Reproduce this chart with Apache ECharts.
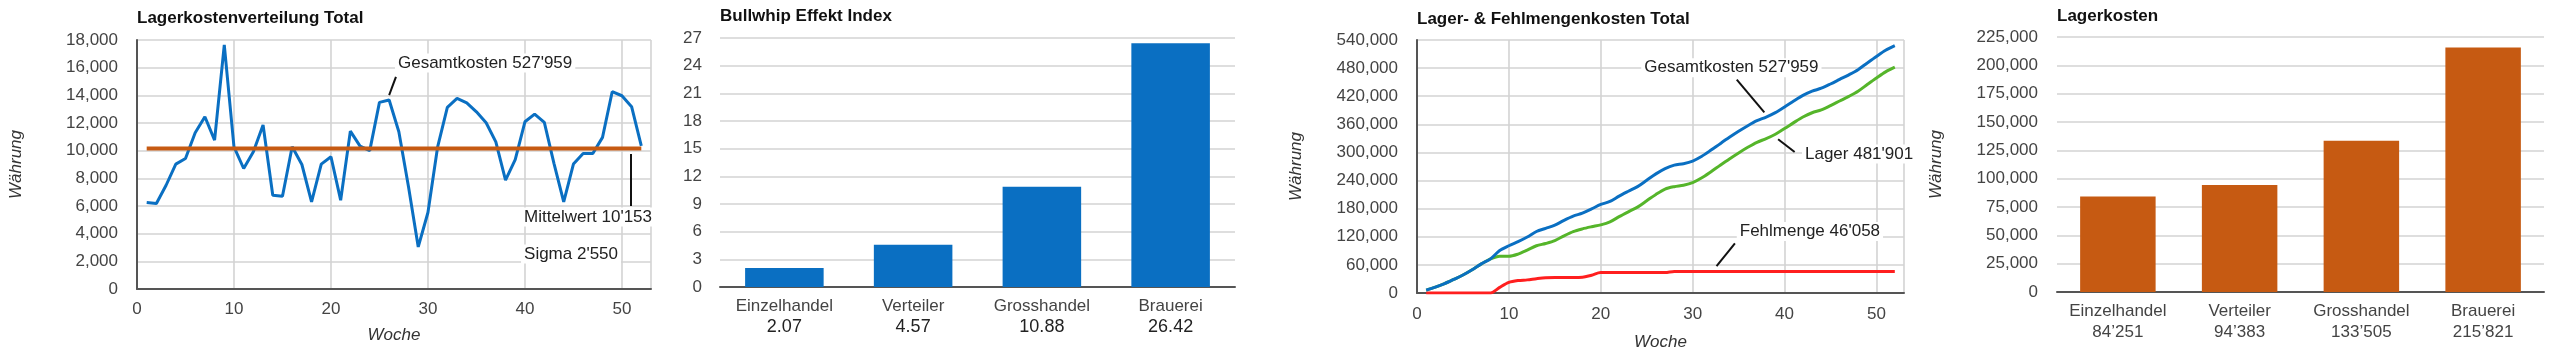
<!DOCTYPE html>
<html>
<head>
<meta charset="utf-8">
<script src="https://cdn.jsdelivr.net/npm/echarts@6/dist/echarts.min.js"></script>
<style>
  html, body { margin: 0; padding: 0; background: #fff; }
  #chart { width: 2560px; height: 356px; }
</style>
</head>
<body>
<div id="chart"></div>
<script>
// --- Daten ---
const weeks = [1,2,3,4,5,6,7,8,9,10,11,12,13,14,15,16,17,18,19,20,21,22,23,24,25,26,
  27,28,29,30,31,32,33,34,35,36,37,38,39,40,41,42,43,44,45,46,47,48,49,50,51,52];

// Lagerkosten pro Woche (Total)
const weeklyCost = [6250,6180,7500,9030,9430,11300,12450,10760,17640,10280,8710,9920,11850,
  6780,6710,10280,9000,6300,9030,9560,6420,11410,10330,10000,13490,13660,11370,7380,3040,
  5530,10280,13130,13780,13460,12810,12020,10640,7870,9360,12090,12640,12040,9070,6300,
  9030,9800,9800,10960,14260,13970,13180,10350];
const meanCost = 10153;

// kumuliert
const gesamt = [6250,12430,19930,28960,38390,49690,62140,72900,90540,100820,109530,119450,
  131300,138080,144790,155070,164070,170370,179400,188960,195380,206790,217120,227120,
  240610,254270,265640,273020,276060,281590,291870,305000,318780,332240,345050,357070,
  367710,375580,384940,397030,409670,421710,430780,437080,446110,455910,465710,476670,
  490930,504900,518080,527959];
const lager = [6250,12430,19930,28960,38390,49690,62140,72900,78540,78320,83030,91450,
  100800,105580,111790,122070,131070,136870,141400,145460,151880,162990,173320,183320,
  196810,210470,221840,226962,230002,235532,245812,258942,272722,286182,298992,311012,
  321652,329522,338882,350972,363612,375652,384722,391022,400052,409852,419652,430612,
  444872,458842,472022,481901];
const fehlmenge = [0,0,0,0,0,0,0,0,12000,22500,26500,28000,30500,32500,33000,33000,33000,
  33500,38000,43500,43500,43800,43800,43800,43800,43800,43800,46058,46058,46058,46058,
  46058,46058,46058,46058,46058,46058,46058,46058,46058,46058,46058,46058,46058,46058,
  46058,46058,46058,46058,46058,46058,46058];

const stufen = ['Einzelhandel', 'Verteiler', 'Grosshandel', 'Brauerei'];
const bullwhip = [2.07, 4.57, 10.88, 26.42];
const lagerkosten = [84251, 94383, 133505, 215821];

// --- Stil ---
const FONT = '"Liberation Sans", Arial, sans-serif';
const BLUE = '#0a6fc2';
const ORANGE = '#c65a12';
const GREEN = '#55b52a';
const RED = '#ff1f1f';
const GRID = '#d3d3d3';
const AXIS = '#555';

const pairs = (ys) => weeks.map((w, i) => [w, ys[i]]);
const swissNum = (v, sep) => String(v).replace(/\B(?=(\d{3})+(?!\d))/g, sep);

function valueX(grid) {
  return {
    type: 'value', gridIndex: grid, min: 0, max: 53, interval: 10,
    name: 'Woche', nameLocation: 'middle', nameGap: 38,
    nameTextStyle: { fontFamily: FONT, fontSize: 17, fontStyle: 'italic', color: '#333' },
    axisLine: { show: true, lineStyle: { color: AXIS, width: 2 } },
    axisTick: { show: false },
    axisLabel: { fontFamily: FONT, fontSize: 17, color: '#444', margin: 12, showMaxLabel: false },
    splitLine: { show: true, lineStyle: { color: GRID, width: 1.6 } }
  };
}
function valueY(grid, max, interval, opts) {
  return Object.assign({
    type: 'value', gridIndex: grid, min: 0, max: max, interval: interval,
    axisLine: { show: true, lineStyle: { color: AXIS, width: 2 } },
    axisTick: { show: false },
    axisLabel: { fontFamily: FONT, fontSize: 17, color: '#444', margin: 19 },
    splitLine: { show: true, lineStyle: { color: GRID, width: 1.6 } }
  }, opts || {});
}
const yName = {
  name: 'Währung', nameLocation: 'middle', nameGap: 112,
  nameTextStyle: { fontFamily: FONT, fontSize: 17, fontStyle: 'italic', color: '#333' }
};
function catX(grid, fmt) {
  return {
    type: 'category', gridIndex: grid, data: stufen,
    axisLine: { show: true, lineStyle: { color: AXIS, width: 2 } },
    axisTick: { show: false },
    axisLabel: {
      margin: 9, interval: 0, formatter: fmt,
      rich: {
        a: { fontFamily: FONT, fontSize: 17, color: '#444', lineHeight: 21 },
        b: { fontFamily: FONT, fontSize: 18, color: '#222', lineHeight: 21 }
      }
    }
  };
}

const titleStyle = { fontFamily: FONT, fontSize: 17, fontWeight: 'bold', color: '#111' };

const chart = echarts.init(document.getElementById('chart'));
chart.setOption({
  animation: false,
  backgroundColor: '#fff',
  title: [
    { text: 'Lagerkostenverteilung Total', left: 137, top: 10, padding: 0, textStyle: titleStyle },
    { text: 'Bullwhip Effekt Index', left: 720, top: 8, padding: 0, textStyle: titleStyle },
    { text: 'Lager- & Fehlmengenkosten Total', left: 1417, top: 11, padding: 0, textStyle: titleStyle },
    { text: 'Lagerkosten', left: 2057, top: 8, padding: 0, textStyle: titleStyle }
  ],
  grid: [
    { left: 137, top: 40, width: 514, height: 249 },
    { left: 720, top: 38, width: 515, height: 249 },
    { left: 1417, top: 40, width: 487, height: 255 },
    { left: 2057, top: 37, width: 487, height: 255 }
  ],
  xAxis: [
    valueX(0),
    catX(1, (v, i) => `{a|${v}}\n{b|${bullwhip[i].toFixed(2)}}`),
    Object.assign(valueX(2), { nameGap: 41, axisLabel: { fontFamily: FONT, fontSize: 17, color: '#444', margin: 13, showMaxLabel: false } }),
    catX(3, (v, i) => `{a|${v}}\n{a|${swissNum(lagerkosten[i], '\u2019')}}`)
  ],
  yAxis: [
    valueY(0, 18000, 2000, yName),
    valueY(1, 27, 3, { axisLine: { show: false }, axisLabel: { fontFamily: FONT, fontSize: 17, color: '#444', margin: 18 } }),
    valueY(2, 540000, 60000, yName),
    valueY(3, 225000, 25000, Object.assign({ axisLine: { show: false } }, yName))
  ],
  series: [
    {
      type: 'line', xAxisIndex: 0, yAxisIndex: 0, data: pairs(weeklyCost),
      showSymbol: false, lineStyle: { color: BLUE, width: 3 }, z: 3
    },
    {
      type: 'line', xAxisIndex: 0, yAxisIndex: 0,
      data: [[weeks[0], meanCost], [weeks[weeks.length - 1], meanCost]],
      showSymbol: false, lineStyle: { color: ORANGE, width: 4 }, z: 4
    },
    {
      type: 'bar', xAxisIndex: 1, yAxisIndex: 1, data: bullwhip,
      barWidth: '61%', itemStyle: { color: BLUE }
    },
    {
      type: 'line', xAxisIndex: 2, yAxisIndex: 2, data: pairs(fehlmenge), smooth: 0.3,
      showSymbol: false, lineStyle: { color: RED, width: 3 }
    },
    {
      type: 'line', xAxisIndex: 2, yAxisIndex: 2, data: pairs(lager), smooth: 0.3,
      showSymbol: false, lineStyle: { color: GREEN, width: 3 }
    },
    {
      type: 'line', xAxisIndex: 2, yAxisIndex: 2, data: pairs(gesamt), smooth: 0.3,
      showSymbol: false, lineStyle: { color: BLUE, width: 3 }
    },
    {
      type: 'bar', xAxisIndex: 3, yAxisIndex: 3, data: lagerkosten,
      barWidth: '62%', itemStyle: { color: ORANGE }
    }
  ]
});

// Beschriftungen mit Hinweislinien (in Datenkoordinaten)
const notes = [
  { axis: 0, text: "Gesamtkosten 527'959", at: [26.6, 16340], lead: [[26.0, 14020], [26.7, 15330]] },
  { axis: 0, text: "Mittelwert 10'153", at: [39.6, 5200], lead: [[50.94, 9760], [50.94, 6000]] },
  { axis: 0, text: "Sigma 2'550", at: [39.6, 2530] },
  { axis: 2, text: "Gesamtkosten 527'959", at: [24.4, 480700], lead: [[34.8, 455300], [37.8, 385400]] },
  { axis: 2, text: "Lager 481'901", at: [41.9, 296500], lead: [[39.3, 328300], [41.1, 300800]] },
  { axis: 2, text: "Fehlmenge 46'058", at: [34.8, 131300], lead: [[34.6, 105900], [32.6, 57200]] }
];

const graphics = [];
notes.forEach(n => {
  const finder = { xAxisIndex: n.axis, yAxisIndex: n.axis };
  const p = chart.convertToPixel(finder, n.at);
  graphics.push({
    type: 'text', x: p[0], y: p[1], z: 10,
    style: {
      text: n.text, font: '17px ' + FONT, fill: '#222',
      verticalAlign: 'middle', backgroundColor: '#fff', padding: [1, 3]
    }
  });
  if (n.lead) {
    const a = chart.convertToPixel(finder, n.lead[0]);
    const b = chart.convertToPixel(finder, n.lead[1]);
    graphics.push({
      type: 'line', z: 10,
      shape: { x1: a[0], y1: a[1], x2: b[0], y2: b[1] },
      style: { stroke: '#111', lineWidth: 2 }
    });
  }
});
chart.setOption({ graphic: graphics });
</script>
</body>
</html>
